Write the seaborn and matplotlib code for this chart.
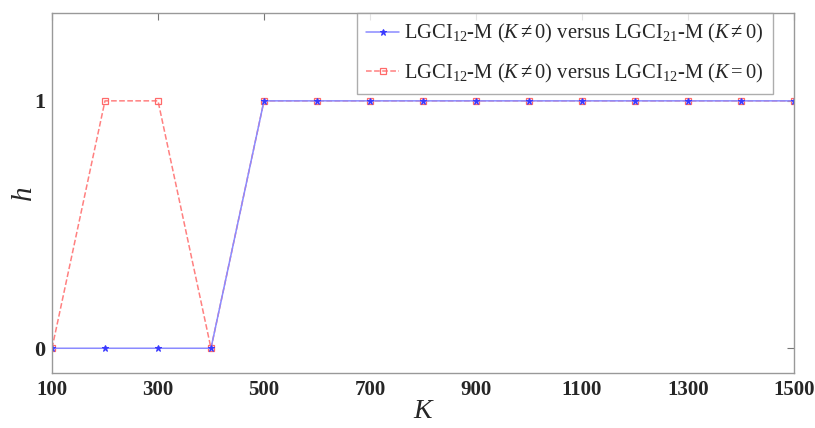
import matplotlib
matplotlib.use("Agg")
import matplotlib.pyplot as plt
import seaborn as sns
import pandas as pd

# data
K = [100, 200, 300, 400, 500, 600, 700, 800, 900, 1000, 1100, 1200, 1300, 1400, 1500]
h_21 = [0, 0, 0, 0, 1, 1, 1, 1, 1, 1, 1, 1, 1, 1, 1]
h_k0 = [0, 1, 1, 0, 1, 1, 1, 1, 1, 1, 1, 1, 1, 1, 1]
xticks = [100, 300, 500, 700, 900, 1100, 1300, 1500]
yticks = [0, 1]

label_21 = r"LGCI$_{12}$-M ($K \neq 0$) versus LGCI$_{21}$-M ($K \neq 0$)"
label_k0 = r"LGCI$_{12}$-M ($K \neq 0$) versus LGCI$_{12}$-M ($K = 0$)"

sns.set_style("white")
plt.rcParams['font.family'] = ['Liberation Serif', 'DejaVu Serif']
plt.rcParams['mathtext.fontset'] = 'custom'
plt.rcParams['mathtext.rm'] = 'Liberation Serif'
plt.rcParams['mathtext.it'] = 'Liberation Serif:italic'
plt.rcParams['mathtext.bf'] = 'Liberation Serif:bold'

df = pd.DataFrame({'K': K, 'h_21': h_21, 'h_k0': h_k0})

fig = plt.figure(figsize=(8.15, 4.28), dpi=100)
ax = fig.add_axes([0.0638, 0.1285, 0.9104, 0.8411])

sns.lineplot(data=df, x='K', y='h_k0', ax=ax, color='#ff8080', linestyle='--',
             linewidth=1.1, marker='s', markersize=5, markerfacecolor='none',
             markeredgecolor='#ff6a6a', markeredgewidth=0.9, label=label_k0)
sns.lineplot(data=df, x='K', y='h_21', ax=ax, color='#8a8aff', linestyle='-',
             linewidth=1.1, marker='*', markersize=4.5, markerfacecolor='#3a3aff',
             markeredgecolor='#3a3aff', label=label_21)

ax.set_xlim(100, 1500)
ax.set_ylim(-0.1, 1.355)
ax.set_xticks(xticks)
ax.set_yticks(yticks)
ax.set_xticklabels([str(t) for t in xticks], fontsize=15, fontweight='bold')
ax.set_yticklabels([str(t) for t in yticks], fontsize=16, fontweight='bold')
ax.tick_params(direction='in', length=5, width=0.8, color='#777777',
               top=True, right=True, pad=5)
for s in ax.spines.values():
    s.set_color('#999999')
    s.set_linewidth(1.0)

ax.set_xlabel('K', fontsize=20, fontstyle='italic', labelpad=-1)
ax.set_ylabel('h', fontsize=21, fontstyle='italic')
ax.yaxis.set_label_coords(-0.02, 0.5)

handles, labels = ax.get_legend_handles_labels()
leg = ax.legend(handles[::-1], labels[::-1], loc='upper right',
                bbox_to_anchor=(0.9717, 1.0), fontsize=14.8, frameon=True,
                fancybox=False, edgecolor='#999999', handlelength=1.6,
                handletextpad=0.25, borderpad=0.45, labelspacing=0.8,
                borderaxespad=0)
leg.get_frame().set_linewidth(1.0)

fig.savefig('out.png', dpi=100)
plt.close()
